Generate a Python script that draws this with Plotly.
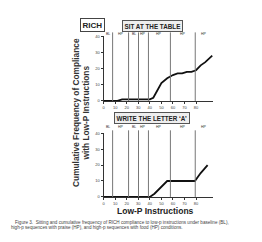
import plotly.graph_objects as go

# ---- data ----
top_x = [0, 4, 8, 12, 16, 20, 24, 28, 32, 36, 40, 43, 46, 50, 55, 60, 64, 68, 72, 76, 80, 84, 88, 94]
top_y = [0, 0, 0, 0, 1, 1, 1, 1, 1, 1, 1, 2, 6, 11, 14, 16, 17, 17, 18, 18, 19, 22, 24, 28]
bot_x = [0, 4, 8, 12, 16, 20, 24, 28, 32, 36, 40, 44, 48, 52, 55, 60, 65, 70, 75, 79, 84, 90]
bot_y = [0, 0, 0, 0, 0, 0, 0, 0, 0, 0, 0, 2, 5, 8, 10, 10, 10, 10, 10, 10, 15, 20]
phase_bounds = [7.8, 21.6, 30.2, 38.8, 57.8, 79.3]
phase_labels = ["BL", "HP", "BL", "HP", "HP", "HP", "HP"]
x_ticks = [0, 10, 20, 30, 40, 50, 60, 70, 80]
y_ticks = [0, 10, 20, 30, 40]
panel_titles = ["SIT AT THE TABLE", "WRITE THE LETTER \u2018A\u2019"]
X_MAX = 95

W, H = 262, 242
def px(v): return v / W
def py(v): return 1 - v / H

FONT = "Liberation Sans, Arial, sans-serif"
fig = go.Figure()
fig.add_trace(go.Scatter(x=top_x, y=top_y, mode="lines", line=dict(color="#111", width=1.8),
                         xaxis="x", yaxis="y", showlegend=False))
fig.add_trace(go.Scatter(x=bot_x, y=bot_y, mode="lines", line=dict(color="#111", width=1.8),
                         xaxis="x2", yaxis="y2", showlegend=False))

axis_common = dict(showgrid=False, zeroline=False, showline=True, linecolor="#333", linewidth=1,
                   ticks="outside", ticklen=2, tickcolor="#333", tickwidth=1,
                   tickfont=dict(size=4, family=FONT, color="#444"))
xdom = [px(103), px(103 + X_MAX * 1.16)]
fig.update_layout(
    width=W, height=H, margin=dict(l=0, r=0, t=0, b=0),
    paper_bgcolor="white", plot_bgcolor="white",
    xaxis=dict(domain=xdom, range=[0, X_MAX], tickvals=x_ticks, anchor="y", **axis_common),
    yaxis=dict(domain=[py(100), py(34)], range=[0, 40], tickvals=y_ticks, anchor="x", **axis_common),
    xaxis2=dict(domain=xdom, range=[0, X_MAX], tickvals=x_ticks, anchor="y2", **axis_common),
    yaxis2=dict(domain=[py(198), py(133)], range=[0, 40], tickvals=y_ticks, anchor="x2", **axis_common),
)

shapes = []
ann = []
panels = [("x", py(100), py(30), py(28), 17), ("x2", py(198), py(130), py(127), 117)]
bounds = [0] + phase_bounds + [X_MAX - 1]
for (xr, y0, y1, ylab, ytitle), title in zip(panels, panel_titles):
    for b in phase_bounds:
        shapes.append(dict(type="line", xref=xr, yref="paper", x0=b, x1=b, y0=y0, y1=y1,
                           line=dict(color="#777", width=1)))
    for i, lab in enumerate(phase_labels):
        ann.append(dict(xref=xr, yref="paper", x=(bounds[i] + bounds[i + 1]) / 2, y=ylab,
                        text=lab, showarrow=False, font=dict(size=3.5, family=FONT, color="#333")))
    ann.append(dict(xref="paper", yref="paper", x=px(152), y=py(ytitle), text="<b>%s</b>" % title,
                    showarrow=False, font=dict(size=6.3, family=FONT, color="#222"),
                    bordercolor="#555", borderwidth=1, borderpad=1.5, bgcolor="#eee"))

ann.append(dict(xref="paper", yref="paper", x=px(79), y=py(15), text="<b>RICH</b>", showarrow=False,
                font=dict(size=8, family=FONT, color="#222"), bordercolor="#444", borderwidth=1,
                borderpad=1.5, bgcolor="white"))
ann.append(dict(xref="paper", yref="paper", x=px(68), y=py(112), textangle=-90,
                text="<b>Cumulative Frequency of Compliance<br>with Low-P Instructions</b>",
                showarrow=False, font=dict(size=8.3, family=FONT, color="#333")))
ann.append(dict(xref="paper", yref="paper", x=px(155), y=py(220), text="<b>Low-P Instructions</b>",
                showarrow=False, font=dict(size=8.5, family=FONT, color="#222")))
ann.append(dict(xref="paper", yref="paper", x=px(12), y=py(229), xanchor="left",
                text="Figure 3.  Sitting and cumulative frequency of RICH compliance to low-p instructions under baseline (BL),",
                showarrow=False, font=dict(size=4.6, family=FONT, color="#444")))
ann.append(dict(xref="paper", yref="paper", x=px(8), y=py(234), xanchor="left",
                text="high-p sequences with praise (HP), and high-p sequences with food (HP) conditions.",
                showarrow=False, font=dict(size=4.6, family=FONT, color="#444")))

fig.update_layout(shapes=shapes, annotations=ann)
fig.write_html("out.html", config={"displayModeBar": False},
               post_script="document.body.style.margin='0';document.body.style.overflow='hidden';")
